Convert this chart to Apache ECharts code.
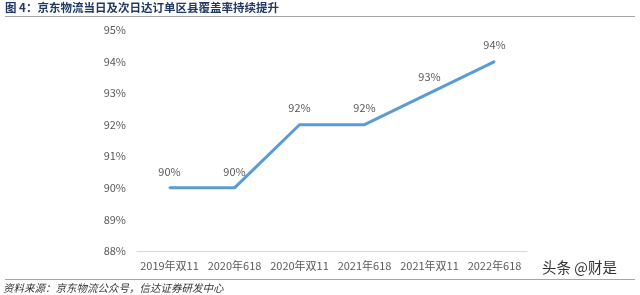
<!DOCTYPE html>
<html><head><meta charset="utf-8">
<script src="https://cdn.jsdelivr.net/npm/echarts@6/dist/echarts.min.js"></script>
<style>html,body{margin:0;padding:0;background:#fff}#c{width:640px;height:295px}</style>
</head><body><div id="c"></div>
<script>
const categories = ['2019年双11','2020年618','2020年双11','2021年618','2021年双11','2022年618'];
const coverage = [90, 90, 92, 92, 93, 94];
const yTicks = [88, 89, 90, 91, 92, 93, 94, 95];
const titleText = '图 4：京东物流当日及次日达订单区县覆盖率持续提升';
const sourceText = '资料来源：京东物流公众号，信达证券研发中心';
const watermark = '头条 @财是';

const chart = echarts.init(document.getElementById('c'), null, {renderer:'canvas'});
chart.setOption({
  animation:false,
  backgroundColor:'#fff',
  grid:{left:137, right:113, top:30, bottom:44, containLabel:false},
  xAxis:{type:'category', data:categories, boundaryGap:true,
    axisLine:{lineStyle:{color:'#D9D9D9', width:1}}, axisTick:{show:false},
    axisLabel:{interval:0, color:'#595959', fontSize:11, fontFamily:'Noto Sans CJK SC', margin:9}},
  yAxis:{type:'value', min:yTicks[0], max:yTicks[yTicks.length-1], interval:1,
    axisLine:{show:false}, axisTick:{show:false}, splitLine:{show:false},
    axisLabel:{color:'#595959', fontSize:11, fontFamily:'Noto Sans CJK SC', margin:11, formatter:v=>v+'%'}},
  series:[{type:'line', data:coverage, symbol:'circle', symbolSize:2, showSymbol:true,
    itemStyle:{color:'#5B9BD5'},
    lineStyle:{color:'#5B9BD5', width:3},
    label:{show:true, position:'top', distance:10, color:'#595959', fontSize:11, fontFamily:'Noto Sans CJK SC', formatter:p=>p.value+'%'}}],
  graphic:[
    {type:'text', left:5, top:2, style:{text:titleText, fill:'#1F3864', font:'bold 11.5px "Noto Sans CJK SC"'}},
    {type:'line', shape:{x1:5, y1:16.5, x2:635, y2:16.5}, style:{stroke:'#A6A6A6', lineWidth:1}},
    {type:'line', shape:{x1:5, y1:279.5, x2:635, y2:279.5}, style:{stroke:'#A6A6A6', lineWidth:1}},
    {type:'text', left:3, top:283, style:{text:sourceText, fill:'#333', font:'italic 10.5px "Noto Sans CJK SC"'}},
    {type:'text', left:541, top:259, style:{text:watermark, fill:'#333', font:'14.5px "Noto Sans CJK SC"', stroke:'#fff', lineWidth:2}}
  ]
});
</script></body></html>
